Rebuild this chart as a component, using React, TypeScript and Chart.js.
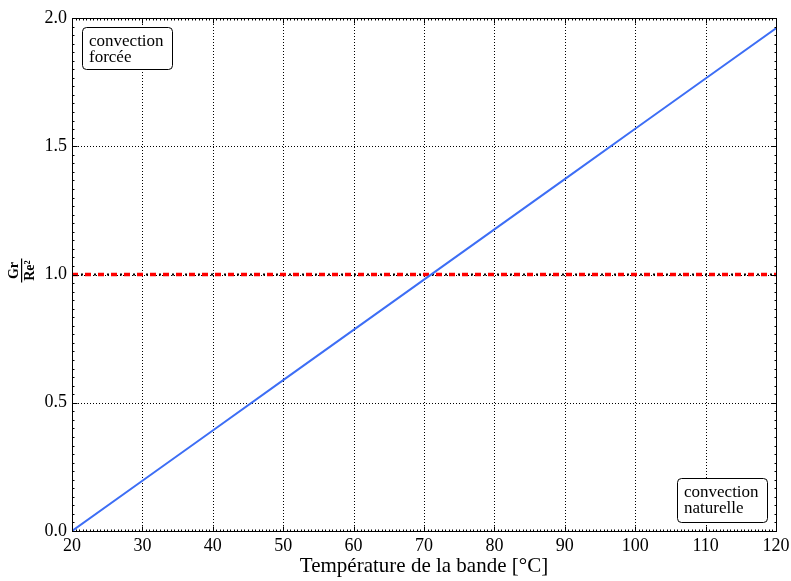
import React, { useEffect, useRef } from "react";
import { Chart, registerables } from "chart.js";

Chart.register(...registerables);

const temperatures = [20, 30, 40, 50, 60, 70, 80, 90, 100, 110, 120];
const ratio = [0, 0.196, 0.392, 0.588, 0.784, 0.98, 1.176, 1.372, 1.568, 1.764, 1.96];
const thresholdX = [20, 120];
const thresholdY = [1.0, 1.0];
const xTicks = [20, 30, 40, 50, 60, 70, 80, 90, 100, 110, 120];
const yTicks = [0, 0.5, 1.0, 1.5, 2.0];
const xLabel = "Température de la bande [°C]";
const boxForced = ["convection", "forcée"];
const boxNatural = ["convection", "naturelle"];

const FONT = "'Liberation Serif', 'DejaVu Serif', serif";

function roundRect(ctx: CanvasRenderingContext2D, x: number, y: number, w: number, h: number, r: number) {
  ctx.beginPath();
  ctx.moveTo(x + r, y);
  ctx.lineTo(x + w - r, y);
  ctx.quadraticCurveTo(x + w, y, x + w, y + r);
  ctx.lineTo(x + w, y + h - r);
  ctx.quadraticCurveTo(x + w, y + h, x + w - r, y + h);
  ctx.lineTo(x + r, y + h);
  ctx.quadraticCurveTo(x, y + h, x, y + h - r);
  ctx.lineTo(x, y + r);
  ctx.quadraticCurveTo(x, y, x + r, y);
  ctx.closePath();
}

const decorPlugin = {
  id: "decor",
  beforeDatasetsDraw(chart: any) {
    const { ctx, chartArea: a, scales } = chart;
    const xs = scales.x, ys = scales.y;
    ctx.save();
    ctx.strokeStyle = "#000";
    ctx.lineWidth = 1;
    ctx.setLineDash([1, 2]);
    xTicks.forEach((t) => {
      const px = Math.round(xs.getPixelForValue(t)) + 0.5;
      if (t === xTicks[0] || t === xTicks[xTicks.length - 1]) return;
      ctx.beginPath();
      ctx.moveTo(px, a.top);
      ctx.lineTo(px, a.bottom);
      ctx.stroke();
    });
    yTicks.forEach((t) => {
      const py = Math.round(ys.getPixelForValue(t)) + 0.5;
      if (t === yTicks[0] || t === yTicks[yTicks.length - 1]) return;
      ctx.beginPath();
      ctx.moveTo(a.left, py);
      ctx.lineTo(a.right, py);
      ctx.stroke();
    });
    ctx.restore();
  },
  afterDatasetsDraw(chart: any) {
    const { ctx, chartArea: a, scales } = chart;
    const xs = scales.x, ys = scales.y;
    ctx.save();
    ctx.strokeStyle = "#000";
    ctx.lineWidth = 1;
    ctx.setLineDash([]);
    const L = Math.round(a.left) + 0.5, R = Math.round(a.right) + 0.5;
    const T = Math.round(a.top) + 0.5, B = Math.round(a.bottom) + 0.5;
    ctx.strokeRect(L, T, R - L, B - T);
    ctx.beginPath();
    for (let i = 0; i <= 200; i++) {
      const v = 20 + i * 0.5;
      const px = Math.round(xs.getPixelForValue(v)) + 0.5;
      ctx.moveTo(px, B); ctx.lineTo(px, B - 2);
      ctx.moveTo(px, T); ctx.lineTo(px, T + 2);
    }
    for (let i = 0; i <= 60; i++) {
      const v = i / 30;
      const py = Math.round(ys.getPixelForValue(v)) + 0.5;
      ctx.moveTo(L, py); ctx.lineTo(L + 2, py);
      ctx.moveTo(R, py); ctx.lineTo(R - 2, py);
    }
    ctx.stroke();
    ctx.beginPath();
    xTicks.forEach((t) => {
      const px = Math.round(xs.getPixelForValue(t)) + 0.5;
      ctx.moveTo(px, B); ctx.lineTo(px, B - 5);
      ctx.moveTo(px, T); ctx.lineTo(px, T + 5);
    });
    yTicks.forEach((t) => {
      const py = Math.round(ys.getPixelForValue(t)) + 0.5;
      ctx.moveTo(L, py); ctx.lineTo(L + 5, py);
      ctx.moveTo(R, py); ctx.lineTo(R - 5, py);
    });
    ctx.stroke();

    ctx.font = `17px ${FONT}`;
    ctx.textBaseline = "alphabetic";
    const drawBox = (lines: string[], x: number, y: number, w: number, h: number) => {
      ctx.fillStyle = "#fff";
      roundRect(ctx, x + 0.5, y + 0.5, w, h, 4);
      ctx.fill();
      ctx.strokeStyle = "#000";
      ctx.stroke();
      ctx.fillStyle = "#000";
      ctx.textAlign = "left";
      lines.forEach((ln, i) => ctx.fillText(ln, x + 7, y + 19 + i * 16));
    };
    drawBox(boxForced, 82, 27, 90, 42);
    drawBox(boxNatural, 677, 478, 90, 44);

    ctx.font = `21px ${FONT}`;
    ctx.textAlign = "center";
    ctx.fillStyle = "#000";
    ctx.fillText(xLabel, (a.left + a.right) / 2, 572);

    const cy = (a.top + a.bottom) / 2 - 4;
    ctx.translate(22, cy);
    ctx.rotate(-Math.PI / 2);
    ctx.font = `bold 14px ${FONT}`;
    ctx.textAlign = "center";
    ctx.fillText("Gr", 0, -4);
    ctx.fillText("Re²", 0, 12);
    ctx.fillRect(-12, -1, 24, 1.2);
    ctx.restore();
  },
};

export default function App() {
  const ref = useRef<HTMLCanvasElement | null>(null);
  useEffect(() => {
    if (!ref.current) return;
    const chart = new Chart(ref.current, {
      type: "line",
      data: {
        datasets: [
          {
            data: thresholdX.map((x, i) => ({ x, y: thresholdY[i] })),
            borderColor: "#ff0000",
            borderWidth: 3.5,
            borderDash: [6, 7],
            pointRadius: 0,
            order: 2,
          },
          {
            data: thresholdX.map((x, i) => ({ x, y: thresholdY[i] })),
            borderColor: "#000000",
            borderWidth: 2,
            borderDash: [2, 11],
            borderDashOffset: -9,
            pointRadius: 0,
            order: 1,
          },
          {
            data: temperatures.map((x, i) => ({ x, y: ratio[i] })),
            borderColor: "#3d6ef5",
            borderWidth: 2,
            pointRadius: 0,
            order: 0,
          },
        ],
      },
      options: {
        animation: false,
        responsive: false,
        maintainAspectRatio: false,
        layout: { padding: { top: 18, right: 15, left: 0, bottom: 0 } },
        plugins: { legend: { display: false }, tooltip: { enabled: false } },
        scales: {
          x: {
            type: "linear",
            min: 20,
            max: 120,
            afterBuildTicks: (s: any) => { s.ticks = xTicks.map((v) => ({ value: v })); },
            afterFit: (s: any) => { s.height = 50; s.paddingLeft = 0; s.paddingRight = 0; },
            grid: { display: false, drawTicks: false },
            border: { display: false },
            ticks: { color: "#000", font: { family: FONT, size: 18 }, padding: 4, maxRotation: 0, autoSkip: false, callback: (v: any) => String(v) },
          },
          y: {
            type: "linear",
            min: 0,
            max: 2,
            afterBuildTicks: (s: any) => { s.ticks = yTicks.map((v) => ({ value: v })); },
            afterFit: (s: any) => { s.width = 72; s.paddingTop = 0; s.paddingBottom = 0; },
            grid: { display: false, drawTicks: false },
            border: { display: false },
            ticks: { color: "#000", font: { family: FONT, size: 18 }, padding: 5, autoSkip: false, callback: (v: any) => Number(v).toFixed(1) },
          },
        },
      },
      plugins: [decorPlugin],
    });
    return () => chart.destroy();
  }, []);
  return (
    <div style={{ position: "fixed", left: 0, top: 0, width: 791, height: 581, background: "#fff" }}>
      <canvas ref={ref} width={791} height={581} style={{ display: "block" }} />
    </div>
  );
}
